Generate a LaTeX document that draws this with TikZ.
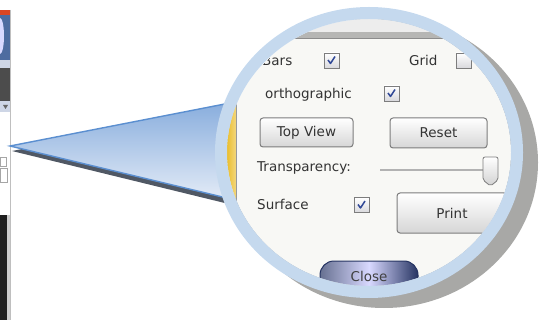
\documentclass[tikz,border=0pt]{standalone}
\usepackage{fontspec}
\setmainfont{DejaVu Sans}
\usetikzlibrary{calc}

\definecolor{ringblue}{RGB}{197,217,238}
\definecolor{beamedge}{RGB}{91,143,208}
\definecolor{beamtop}{RGB}{136,173,221}
\definecolor{beambot}{RGB}{228,236,247}
\definecolor{beamshade}{RGB}{80,88,100}
\definecolor{shadowgray}{RGB}{168,168,166}
\definecolor{panelbg}{RGB}{248,248,245}
\definecolor{topbar}{RGB}{182,182,180}
\definecolor{btnborder}{RGB}{125,125,125}
\definecolor{yellowstrip}{RGB}{232,182,20}
\definecolor{closedark}{RGB}{38,52,98}
\definecolor{checkblue}{RGB}{48,72,150}
\definecolor{stripblue}{RGB}{78,108,160}
\definecolor{stripbar}{RGB}{206,214,230}

\tikzset{
  lbl/.style={anchor=base west, inner sep=0pt, text=black!80,
    font=\fontsize{13.5}{16}\selectfont},
  chkbox/.style={draw=btnborder, line width=0.8pt, minimum size=15pt,
    inner sep=0pt, top color=white, bottom color=blue!10!black!15},
  btn/.style={draw=btnborder, line width=1pt, rounded corners=3pt,
    top color=white, bottom color=black!16, inner sep=0pt, text=black!80,
    font=\fontsize{13.5}{16}\selectfont}
}

\begin{document}
\begin{tikzpicture}[x=1pt,y=-1pt]
\useasboundingbox (0,0) rectangle (545,320);

%Geometry of the magnifier ellipse
\def\rx{154}        %outer x radius
\def\ry{145.5}      %outer y radius
\def\rw{12}         %ring width

\coordinate (mid) at (369,152.5);
\coordinate (shd) at (384,162.5);
\coordinate (tip) at (10,146);
\coordinate (up) at (235,102);
\coordinate (lo) at (235,200);

% Screenshot strip on the left
\fill[red!45!brown] (0,10) rectangle (10,15);
\fill[stripblue] (0,15) rectangle (10,60);
\fill[white!85!blue] (0,36) ellipse [x radius=4pt, y radius=18pt];
\fill[stripbar] (0,60) rectangle (10,68);
\fill[black!70] (0,68) rectangle (10,101);
\fill[stripbar] (0,101) rectangle (10,112);
\fill[black!60] (3,105) -- (8,105) -- (5.5,109) -- cycle;
\draw[black!35] (0,157) rectangle (6,166);
\draw[black!35] (0,168) rectangle (7,182);
\fill[black!88] (0,215) rectangle (7,320);
\fill[black!20] (7,215) rectangle (10,320);
\draw[black!25] (10,10) -- (10,320);

% Drop shadow of the lens
\fill[shadowgray] (shd) ellipse [x radius=\rx pt, y radius=\ry pt];

% Beam from the strip to the lens
\fill[beamshade] ($(tip)+(2,5)$) -- ($(up)+(2,5)$) -- ($(lo)+(2,6)$) -- cycle;
\draw[beamedge, line width=1.4pt, top color=beamtop, bottom color=beambot]
  (tip) -- (up) -- (lo) -- cycle;

% Content seen through the lens
\begin{scope}
\clip (mid) ellipse [x radius=\rx pt-\rw pt, y radius=\ry pt-\rw pt];
\fill[panelbg] (200,0) rectangle (545,320);
\fill[black!7] (200,0) rectangle (545,32);
\fill[topbar] (200,32) rectangle (545,38);
\draw[black!45] (200,38) -- (545,38);
\shade[left color=yellowstrip, right color=yellowstrip!55!white] (224,80) rectangle (236,235);
\draw[black!40] (236,80) -- (236,235);

\node[lbl] (bars) at (262,66) {Bars};
\node[chkbox] (barsbox) at (331.5,60.5) {};
\node[lbl] (grid) at (409,66) {Grid};
\node[chkbox] (gridbox) at (463.5,60.5) {};
\node[lbl] (ortho) at (265,99) {orthographic};
\node[chkbox] (orthobox) at (391.5,93.5) {};
\node[btn, minimum width=93pt, minimum height=29pt] (topview) at (306.5,132.5) {Top View};
\node[btn, minimum width=97pt, minimum height=30pt] (reset) at (438.5,133) {Reset};
\node[lbl] (transp) at (257,172) {Transparency:};
\draw[black!30, line width=1.6pt] (380,170) -- (487,170);
\draw[btnborder, line width=0.8pt, rounded corners=2pt, top color=white, bottom color=black!18]
  (483,157) -- (498,157) -- (498,180) -- (490.5,186) -- (483,180) -- cycle;
\node[lbl] (surface) at (257,209) {Surface};
\node[chkbox] (surfbox) at (361.5,205) {};
\node[btn, minimum width=110pt, minimum height=40pt] (print) at (452,213) {Print};
\node[draw=closedark, line width=1pt, rounded corners=14pt, minimum width=98pt,
  minimum height=30pt, inner sep=0pt, left color=closedark!70!white,
  right color=closedark, middle color=white!85!blue,
  font=\fontsize{13.5}{16}\selectfont, text=black!75] (close) at (369,276) {Close};

%check marks
\foreach \b in {barsbox,orthobox,surfbox}
  \draw[checkblue, line width=1.5pt, line join=round]
    ([shift={(-3.5pt,0.5pt)}]\b.center) -- ([shift={(-1pt,-3pt)}]\b.center)
    -- ([shift={(3.5pt,4pt)}]\b.center);
\end{scope}

% Lens ring
\draw[ringblue, line width=\rw pt] (mid) ellipse [x radius=\rx pt-0.5*\rw pt, y radius=\ry pt-0.5*\rw pt];

\end{tikzpicture}
\end{document}
